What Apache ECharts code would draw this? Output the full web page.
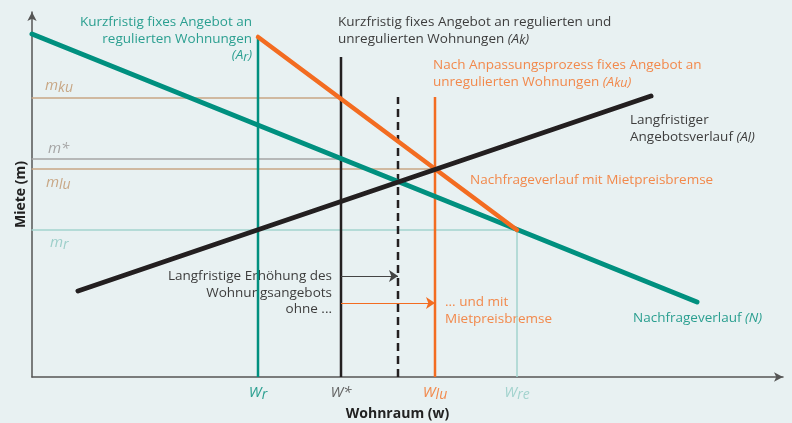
<!DOCTYPE html>
<html>
<head>
<meta charset="utf-8">
<script src="https://cdn.jsdelivr.net/npm/echarts@6/dist/echarts.min.js"></script>
<style>
html, body { margin: 0; padding: 0; background: #e8f1f2; }
#diagramm { width: 792px; height: 423px; }
</style>
</head>
<body>
<div id="diagramm"></div>
<script>
// Kurven (x = Wohnraum, y = Miete)
var nachfrage = [[0, 343], [665, 75]];
var nachfrageBremse = [[226, 340], [485, 147]];
var angebotLang = [[46, 86], [619, 281]];

// senkrechte Angebotslinien: Ar, Ak, verschobenes Angebot, Aku, Wre
var angebotX = [226, 309, 366, 403, 485];
var angebotOben = [340, 320, 280, 280, 147];

// waagerechte Mietniveaus
var mietNamen = ['mku', 'm*', 'mlu', 'mr'];
var mietWerte = [279, 218, 208, 147];
var mietBis = [309, 309, 403, 485];

// Wohnraum-Marken auf der x-Achse
var wohnraumWerte = [226, 309, 403, 485];

// Pfeile fuer die langfristige Erhoehung
var pfeilY = [101, 74];
var pfeilVon = [309, 309];
var pfeilBis = [366, 403];

var F = '"Open Sans", "Noto Sans", sans-serif';
var TEAL = '#00907f', TEAL_T = '#2a9f90';
var ORANGE = '#f36c21', ORANGE_T = '#f2894c';
var SCHWARZ = '#231f20', DUNKEL_T = '#3d3d3d';
var HELLTEAL = '#a3d3ce', TAN = '#c8a785', GRAU = '#a5a5a5';

function stil(farbe, gr, sub) {
    return {
        n: { fill: farbe, fontSize: gr, fontFamily: F, lineHeight: 16.5 },
        i: { fill: farbe, fontSize: gr, fontFamily: F, fontStyle: 'italic', lineHeight: 16.5 },
        s: { fill: farbe, fontSize: sub, fontFamily: F, fontStyle: 'italic', lineHeight: 6, verticalAlign: 'bottom' }
    };
}

function strecke(pts, farbe, breite, typ, z) {
    return {
        type: 'line',
        data: pts,
        showSymbol: false,
        silent: true,
        z: z || 2,
        lineStyle: { color: farbe, width: breite, type: typ || 'solid', cap: 'round' }
    };
}

var series = [];

// Mietniveaus
var mietFarben = [TAN, GRAU, TAN, HELLTEAL];
for (var i = 0; i < mietWerte.length; i++) {
    series.push(strecke([[0, mietWerte[i]], [mietBis[i], mietWerte[i]]], mietFarben[i], 1.3, 'solid', 1));
}

// senkrechte Linien
var sFarben = [TEAL, SCHWARZ, SCHWARZ, ORANGE, HELLTEAL];
var sBreiten = [2.5, 2.5, 2.5, 2.5, 1.5];
var sTypen = ['solid', 'solid', [8, 5], 'solid', 'solid'];
for (var j = 0; j < angebotX.length; j++) {
    var s = strecke([[angebotX[j], 0], [angebotX[j], angebotOben[j]]], sFarben[j], sBreiten[j], sTypen[j], 2);
    s.lineStyle.cap = 'butt';
    series.push(s);
}

series.push(strecke(nachfrage, TEAL, 5, 'solid', 3));
series.push(strecke(nachfrageBremse, ORANGE, 4.5, 'solid', 4));
series.push(strecke(angebotLang, SCHWARZ, 5, 'solid', 5));

// Pfeile
var pFarben = ['#444', ORANGE];
for (var k = 0; k < pfeilY.length; k++) {
    series.push({
        type: 'lines',
        coordinateSystem: 'cartesian2d',
        silent: true,
        z: 6,
        symbol: ['none', 'arrow'],
        symbolSize: 9,
        lineStyle: { color: pFarben[k], width: 1.2, opacity: 1 },
        data: [{ coords: [[pfeilVon[k], pfeilY[k]], [pfeilBis[k], pfeilY[k]]] }]
    });
}

var wLabel = {
    226: '{tW|W}{tS|r}',
    309: '{kW|W*}',
    403: '{oW|W}{oS|lu}',
    485: '{lW|W}{lS|re}'
};
function wStil(farbe) {
    return [
        { color: farbe, fontSize: 15, fontFamily: F, fontStyle: 'italic', lineHeight: 18 },
        { color: farbe, fontSize: 14, fontFamily: F, fontStyle: 'italic', lineHeight: 8, verticalAlign: 'bottom' }
    ];
}
var wRich = {};
[['t', TEAL_T], ['k', '#666'], ['o', ORANGE_T], ['l', HELLTEAL]].forEach(function (p) {
    var st = wStil(p[1]);
    wRich[p[0] + 'W'] = st[0];
    wRich[p[0] + 'S'] = st[1];
});

function txt(x, y, text, farbe, align) {
    return {
        type: 'text', x: x, y: y, silent: true,
        style: {
            text: text, align: align || 'left', verticalAlign: 'top',
            rich: stil(farbe, 13.5, 12.5), fill: farbe, font: '13.5px ' + F
        }
    };
}
function mTxt(x, y, text, farbe) {
    return {
        type: 'text', x: x, y: y, silent: true,
        style: {
            text: text, align: 'left', verticalAlign: 'middle', fill: farbe,
            rich: {
                m: { fill: farbe, fontSize: 15, fontFamily: F, fontStyle: 'italic', lineHeight: 18 },
                s: { fill: farbe, fontSize: 14, fontFamily: F, fontStyle: 'italic', lineHeight: 8, verticalAlign: 'bottom' }
            }
        }
    };
}

var grafik = [
    txt(252, 14, '{n|Kurzfristig fixes Angebot an}\n{n|regulierten Wohnungen}\n{i|(A}{s|r}{i|)}', TEAL_T, 'right'),
    txt(338, 14, '{n|Kurzfristig fixes Angebot an regulierten und}\n{n|unregulierten Wohnungen }{i|(A}{s|k}{i|)}', DUNKEL_T),
    txt(433, 57, '{n|Nach Anpassungsprozess fixes Angebot an}\n{n|unregulierten Wohnungen }{i|(A}{s|ku}{i|)}', ORANGE_T),
    txt(630, 112, '{n|Langfristiger}\n{n|Angebotsverlauf }{i|(A}{s|l}{i|)}', DUNKEL_T),
    txt(470, 172, '{n|Nachfrageverlauf mit Mietpreisbremse}', ORANGE_T),
    txt(332, 268, '{n|Langfristige Erhöhung des}\n{n|Wohnungsangebots}\n{n|ohne ...}', DUNKEL_T, 'right'),
    txt(445, 294, '{n|... und mit}\n{n|Mietpreisbremse}', ORANGE_T),
    txt(633, 310, '{n|Nachfrageverlauf }{i|(N)}', TEAL_T),
    mTxt(45, 86, '{m|m}{s|ku}', TAN),
    mTxt(48, 149, '{m|m*}', GRAU),
    mTxt(46, 183, '{m|m}{s|lu}', TAN),
    mTxt(50, 243, '{m|m}{s|r}', '#9dcfca')
];

var chart = echarts.init(document.getElementById('diagramm'));
chart.setOption({
    backgroundColor: '#e8f1f2',
    animation: false,
    grid: { left: 32, right: 9, top: 12, bottom: 46, outerBoundsMode: 'none' },
    xAxis: {
        type: 'value', min: 0, max: 751,
        name: 'Wohnraum (w)', nameLocation: 'middle', nameGap: 30,
        nameTextStyle: { fontFamily: F, fontSize: 14, fontWeight: 'bold', color: '#222', padding: [0, 20, 0, 0] },
        axisLine: { show: true, onZero: false, symbol: ['none', 'arrow'], symbolSize: [7, 9], lineStyle: { color: '#555', width: 1.5 } },
        axisTick: { show: false },
        splitLine: { show: false },
        axisLabel: {
            customValues: wohnraumWerte, margin: 7,
            formatter: function (v) { return wLabel[v] || ''; },
            rich: wRich
        }
    },
    yAxis: {
        type: 'value', min: 0, max: 365,
        name: 'Miete (m)', nameLocation: 'middle', nameGap: 4,
        nameTextStyle: { fontFamily: F, fontSize: 14, fontWeight: 'bold', color: '#222' },
        axisLine: { show: true, onZero: false, symbol: ['none', 'arrow'], symbolSize: [7, 9], lineStyle: { color: '#555', width: 1.5 } },
        axisTick: { show: false },
        axisLabel: { show: false },
        splitLine: { show: false }
    },
    graphic: grafik,
    series: series
});
</script>
</body>
</html>
